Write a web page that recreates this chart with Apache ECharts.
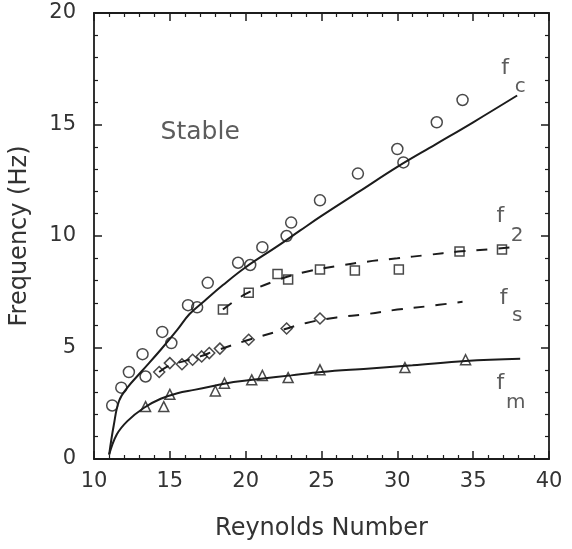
<!DOCTYPE html>
<html>
<head>
<meta charset="utf-8">
<script src="https://cdn.jsdelivr.net/npm/echarts@6/dist/echarts.min.js"></script>
<style>
  html, body { margin: 0; padding: 0; background: #fff; }
  #chart { width: 572px; height: 549px; }
</style>
</head>
<body>
<div id="chart"></div>
<script>
// Axis ticks
const xTicks = [10, 15, 20, 25, 30, 35, 40];
const yTicks = [0, 5, 10, 15, 20];

// f_c : measured frequencies (circles) and fitted curve
const fcRe   = [11.2, 11.8, 12.3, 13.2, 13.4, 14.5, 15.1, 16.2, 16.8, 17.5, 19.5, 20.3, 21.1, 22.7, 23.0, 24.9, 27.4, 30.0, 30.4, 32.6, 34.3];
const fcHz   = [2.4, 3.2, 3.9, 4.7, 3.7, 5.7, 5.2, 6.9, 6.8, 7.9, 8.8, 8.7, 9.5, 10.0, 10.6, 11.6, 12.8, 13.9, 13.3, 15.1, 16.1];
const fcFitRe = [11.0, 11.3, 11.65, 12.2, 13.1, 14.4, 15.5, 16.3, 17.3, 18.5, 20.0, 22.0, 23.6, 25.0, 27.5, 30.0, 32.5, 35.0, 37.9];
const fcFitHz = [0.2, 1.5, 2.6, 3.2, 3.9, 4.9, 5.8, 6.5, 7.1, 7.8, 8.6, 9.5, 10.25, 10.9, 12.0, 13.1, 14.1, 15.1, 16.3];

// f_2 : squares and dashed curve
const f2Re   = [18.5, 20.2, 22.1, 22.8, 24.9, 27.2, 30.1, 34.1, 36.9];
const f2Hz   = [6.7, 7.45, 8.3, 8.05, 8.5, 8.45, 8.5, 9.3, 9.4];
const f2FitRe = [18.5, 20.0, 22.0, 24.0, 26.0, 28.0, 30.0, 32.0, 34.0, 36.0, 37.7];
const f2FitHz = [6.7, 7.4, 8.0, 8.4, 8.65, 8.85, 9.0, 9.15, 9.3, 9.4, 9.5];

// f_s : diamonds and dashed curve
const fsRe   = [14.3, 15.0, 15.8, 16.5, 17.1, 17.6, 18.3, 20.2, 22.7, 24.9];
const fsHz   = [3.9, 4.3, 4.25, 4.45, 4.6, 4.75, 4.95, 5.35, 5.85, 6.3];
const fsFitRe = [14.3, 15.0, 16.0, 17.0, 18.0, 20.0, 22.0, 24.0, 26.0, 28.0, 30.0, 32.0, 34.3];
const fsFitHz = [3.9, 4.2, 4.4, 4.6, 4.85, 5.3, 5.7, 6.1, 6.35, 6.5, 6.7, 6.85, 7.05];

// f_m : triangles and solid curve
const fmRe   = [13.4, 14.6, 15.0, 18.0, 18.6, 20.4, 21.1, 22.8, 24.9, 30.5, 34.5];
const fmHz   = [2.35, 2.35, 2.9, 3.05, 3.4, 3.55, 3.75, 3.65, 4.0, 4.1, 4.45];
const fmFitRe = [11.0, 11.5, 12.2, 13.3, 14.4, 15.5, 16.6, 17.7, 19.2, 21.0, 23.0, 25.0, 28.0, 31.0, 34.5, 38.1];
const fmFitHz = [0.2, 1.1, 1.7, 2.3, 2.7, 2.95, 3.1, 3.25, 3.45, 3.6, 3.75, 3.9, 4.05, 4.2, 4.4, 4.5];

// Curve names: main letter and subscript, anchored in data units
const curveLabels = ['f', 'c', 'f', '2', 'f', 's', 'f', 'm'];
const curveLabelRe = [37.1, 38.1, 36.8, 37.9, 37.0, 37.9, 36.8, 37.8];
const curveLabelHz = [17.5, 16.7, 10.9, 10.0, 7.2, 6.4, 3.4, 2.5];

const regionText = 'Stable';
const regionRe = 17.0;
const regionHz = 14.65;

const zip = (a, b) => a.map((v, i) => [v, b[i]]);

const INK = '#1c1c1c';
const TEXT = '#333333';
const FONT = '"DejaVu Sans", sans-serif';

function xAx(pos, showLabels) {
  return {
    type: 'value', position: pos, min: 10, max: 40, interval: 5,
    axisLine: { show: true, onZero: false, lineStyle: { color: INK, width: 1.8 } },
    axisTick: { show: true, inside: true, length: 8, lineStyle: { color: INK, width: 1.5 } },
    minorTick: { show: true, splitNumber: 5, length: 4, lineStyle: { color: INK, width: 1.2 } },
    splitLine: { show: false },
    axisLabel: {
      show: showLabels, fontSize: 21, color: TEXT, fontFamily: FONT, margin: 12,
      formatter: v => xTicks.includes(v) ? String(v) : ''
    },
    name: showLabels ? 'Reynolds Number' : '',
    nameLocation: 'middle', nameGap: 58,
    nameTextStyle: { fontSize: 24, color: TEXT, fontFamily: FONT }
  };
}
function yAx(pos, showLabels) {
  return {
    type: 'value', position: pos, min: 0, max: 20, interval: 5,
    axisLine: { show: true, onZero: false, lineStyle: { color: INK, width: 1.8 } },
    axisTick: { show: true, inside: true, length: 8, lineStyle: { color: INK, width: 1.5 } },
    minorTick: { show: true, splitNumber: 5, length: 4, lineStyle: { color: INK, width: 1.2 } },
    splitLine: { show: false },
    axisLabel: {
      show: showLabels, fontSize: 21, color: TEXT, fontFamily: FONT, margin: 18,
      formatter: v => yTicks.includes(v) ? String(v) : ''
    },
    name: showLabels ? 'Frequency (Hz)' : '',
    nameLocation: 'middle', nameGap: 62, nameRotate: 90,
    nameTextStyle: { fontSize: 24, color: TEXT, fontFamily: FONT }
  };
}

function pts(name, re, hz, symbol, size) {
  return {
    name, type: 'scatter', data: zip(re, hz), symbol, symbolSize: size,
    itemStyle: { color: 'rgba(255,255,255,0)', borderColor: INK, borderWidth: 1.5 },
    z: 4, silent: true
  };
}
function curve(name, re, hz, dashed) {
  return {
    name, type: 'line', data: zip(re, hz), smooth: 0.4, showSymbol: false,
    lineStyle: { color: INK, width: 2, type: dashed ? [11, 11] : 'solid' },
    z: 3, silent: true
  };
}

const labelData = curveLabels.map((t, i) => ({
  value: [curveLabelRe[i], curveLabelHz[i]],
  label: { formatter: t, fontSize: i % 2 === 0 ? 22 : 20 }
}));

const chart = echarts.init(document.getElementById('chart'), null, { renderer: 'canvas' });
chart.setOption({
  backgroundColor: '#fff',
  animation: false,
  grid: { left: 94, right: 23, top: 13, bottom: 90, containLabel: false },
  xAxis: [xAx('bottom', true), xAx('top', false)],
  yAxis: [yAx('left', true), yAx('right', false)],
  series: [
    curve('fc fit', fcFitRe, fcFitHz, false),
    curve('f2 fit', f2FitRe, f2FitHz, true),
    curve('fs fit', fsFitRe, fsFitHz, true),
    curve('fm fit', fmFitRe, fmFitHz, false),
    pts('fc', fcRe, fcHz, 'circle', 11),
    pts('f2', f2Re, f2Hz, 'rect', 9),
    pts('fs', fsRe, fsHz, 'diamond', 11),
    pts('fm', fmRe, fmHz, 'triangle', 10),
    {
      name: 'curve names', type: 'scatter', symbolSize: 0, silent: true, z: 5,
      data: labelData,
      label: { show: true, position: 'inside', color: TEXT, fontFamily: FONT }
    },
    {
      name: 'region', type: 'scatter', symbolSize: 0, silent: true, z: 5,
      data: [[regionRe, regionHz]],
      label: { show: true, position: 'inside', formatter: regionText, fontSize: 25, color: TEXT, fontFamily: FONT }
    }
  ]
});
</script>
</body>
</html>
